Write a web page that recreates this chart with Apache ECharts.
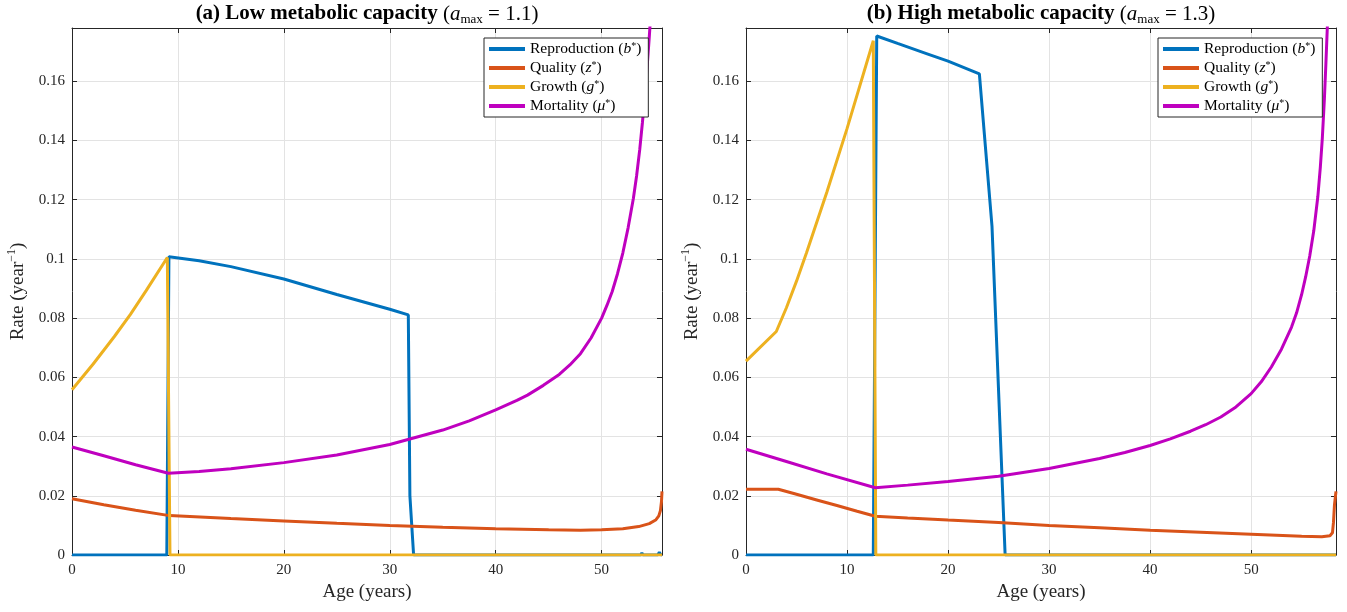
<!DOCTYPE html>
<html>
<head>
<meta charset="utf-8">
<script src="https://cdn.jsdelivr.net/npm/echarts@6/dist/echarts.min.js"></script>
<style>
html,body{margin:0;padding:0;background:#fff;}
#chart{width:1347px;height:612px;}
</style>
</head>
<body>
<div id="chart"></div>
<script>
// ---------- data (age in years, rate in 1/year) ----------
const ageMaxA = 55.7;
const ageMaxB = 58.4;
const rateMax = 0.178;

const reproA = [[0,0],[8.95,0],[9.15,0.1007],[12,0.0994],[15,0.0974],[20,0.0932],[25,0.0880],[30,0.0830],[31.75,0.0811],[31.9,0.020],[32.25,0],[53.7,0],[53.8,0.0007],[53.9,0],[55.3,0],[55.45,0.0009],[55.6,0],[55.7,0]];
const qualA = [[0,0.0190],[3,0.0170],[6,0.0151],[9.2,0.0133],[15,0.0123],[20,0.0115],[25,0.0107],[30,0.0100],[35,0.0094],[40,0.0089],[45,0.0085],[48,0.0084],[50,0.0085],[52,0.0089],[53.5,0.0096],[54.5,0.0106],[55.1,0.0118],[55.4,0.0132],[55.55,0.0150],[55.65,0.0180],[55.7,0.0215]];
const growA = [[0,0.0558],[2,0.0645],[4,0.0738],[5.5,0.0812],[7,0.0893],[9.0,0.1005],[9.25,0],[55.7,0]];
const mortA = [[0,0.0365],[3,0.0335],[6,0.0305],[9.1,0.0276],[12,0.0282],[15,0.0291],[20,0.0312],[25,0.0338],[30,0.0373],[35,0.0422],[37.5,0.0453],[40,0.0490],[42,0.0522],[43,0.0540],[44.5,0.0573],[46,0.0610],[47,0.0642],[48,0.0680],[49,0.0733],[50,0.0800],[50.5,0.0843],[51,0.0890],[51.5,0.0950],[52,0.1020],[52.5,0.1105],[53,0.1205],[53.3,0.1280],[53.6,0.1370],[53.85,0.1460],[54.1,0.1560],[54.3,0.1650],[54.5,0.1750],[54.7,0.1860],[54.9,0.1980]];

const reproB = [[0,0],[12.6,0],[12.94,0.1753],[15,0.1728],[18,0.1692],[20,0.1668],[23.1,0.1625],[24.35,0.111],[25.65,0],[58.4,0]];
const qualB = [[0,0.0222],[3.2,0.0222],[5,0.0205],[7,0.0186],[9,0.0167],[11,0.0148],[12.8,0.0131],[16,0.0125],[20,0.0118],[25,0.0110],[30,0.0100],[35,0.0092],[40,0.0084],[45,0.0077],[50,0.0070],[55,0.0063],[57,0.0062],[57.8,0.0065],[58.05,0.0075],[58.15,0.0110],[58.25,0.0170],[58.4,0.0215]];
const growB = [[0,0.0655],[3.0,0.0755],[4,0.0835],[5,0.0925],[6,0.1022],[8,0.1225],[10,0.1440],[12.6,0.1737],[12.85,0],[58.4,0]];
const mortB = [[0,0.0357],[4,0.0316],[8,0.0274],[12.8,0.0227],[16,0.0236],[20,0.0248],[25,0.0266],[30,0.0292],[35,0.0326],[37.5,0.0346],[40,0.0370],[42,0.0392],[44,0.0418],[45.5,0.0440],[47,0.0466],[48.5,0.0500],[50,0.0545],[51,0.0585],[52,0.0635],[53,0.0695],[54,0.0770],[54.5,0.0818],[55,0.0880],[55.4,0.0940],[55.8,0.1010],[56.2,0.1095],[56.6,0.1210],[56.85,0.1310],[57.05,0.1410],[57.25,0.1540],[57.4,0.1660],[57.55,0.1790],[57.7,0.1930]];

const seriesNames = ['Reproduction','Quality','Growth','Mortality'];
const legendLabels = {
  'Reproduction': '{n|Reproduction (}{i|b}{p|*}{n|)}',
  'Quality': '{n|Quality (}{i|z}{p|*}{n|)}',
  'Growth': '{n|Growth (}{i|g}{p|*}{n|)}',
  'Mortality': '{n|Mortality (}{i|μ}{p|*}{n|)}'
};
const colors = ['#0072BD','#D95319','#EDB120','#BF00BF'];

// ---------- styling ----------
const F = 'Liberation Serif';
const AX = '#262626';
const grids = [
  {left:72, top:28, width:590, height:527},
  {left:746, top:28, width:590, height:527}
];

function xFmt(v){ return (Math.abs(v % 10) < 1e-9) ? String(v) : ''; }
function yFmt(v){ return v > 0.17 ? '' : String(+v.toFixed(2)); }

function xAxisDef(gi, max, top){
  return {
    type:'value', gridIndex:gi, min:0, max:max, interval:10,
    position: top ? 'top' : 'bottom',
    axisLine:{show:true, onZero:false, lineStyle:{color:AX, width:1}},
    axisTick:{show:true, inside:true, length:5, lineStyle:{color:AX}},
    axisLabel:{show:!top, formatter:xFmt, color:AX, fontFamily:F, fontSize:15, margin:8},
    splitLine:{show:!top, lineStyle:{color:'#e3e3e3', width:1}},
    name: top ? '' : 'Age (years)',
    nameLocation:'middle', nameGap:27,
    nameTextStyle:{fontFamily:F, fontSize:19, color:AX}
  };
}
function yAxisDef(gi, right){
  return {
    type:'value', gridIndex:gi, min:0, max:rateMax, interval:0.02,
    position: right ? 'right' : 'left',
    axisLine:{show:true, onZero:false, lineStyle:{color:AX, width:1}},
    axisTick:{show:true, inside:true, length:5, lineStyle:{color:AX}},
    axisLabel:{show:!right, formatter:yFmt, color:AX, fontFamily:F, fontSize:15, margin:7},
    splitLine:{show:!right, lineStyle:{color:'#e3e3e3', width:1}},
    name: right ? '' : '{n|Rate (year}{p|−1}{n|)}',
    nameLocation:'middle', nameGap:42, nameRotate:90,
    nameTextStyle:{
      rich:{
        n:{fontFamily:F, fontSize:19, color:AX, lineHeight:24},
        p:{fontFamily:F, fontSize:12, color:AX, lineHeight:13, verticalAlign:'top'}
      }
    }
  };
}

function legendDef(left){
  return {
    data: seriesNames, left:left, top:38, orient:'vertical',
    padding:[3,7,3,5], itemGap:3, itemWidth:36, itemHeight:4, icon:'rect',
    selectedMode:false,
    backgroundColor:'#fff', borderColor:AX, borderWidth:1, borderRadius:0,
    formatter: function(name){ return legendLabels[name]; },
    textStyle:{
      rich:{
        n:{fontFamily:F, fontSize:15.5, color:'#000', lineHeight:16},
        i:{fontFamily:F, fontSize:15.5, fontStyle:'italic', color:'#000', lineHeight:16},
        p:{fontFamily:F, fontSize:10, color:'#000', lineHeight:9, verticalAlign:'top'}
      }
    }
  };
}

const titleRich = {
  b:{fontFamily:F, fontSize:21, fontWeight:'bold', color:'#000', lineHeight:24},
  t:{fontFamily:F, fontSize:21, fontWeight:'normal', color:'#000', lineHeight:24},
  i:{fontFamily:F, fontSize:21, fontWeight:'normal', fontStyle:'italic', color:'#000', lineHeight:24},
  s:{fontFamily:F, fontSize:13, fontWeight:'normal', color:'#000', lineHeight:14, verticalAlign:'bottom'}
};

function lineSeries(name, data, gi, ci){
  return {
    name:name, type:'line', xAxisIndex:gi, yAxisIndex:gi, data:data,
    showSymbol:false, symbol:'none', clip:true,
    lineStyle:{color:colors[ci], width:3}, itemStyle:{color:colors[ci]},
    emphasis:{disabled:true}
  };
}

const option = {
  animation:false,
  backgroundColor:'#fff',
  title:[
    {text:'{b|(a) Low metabolic capacity }{t|(}{i|a}{s|max}{t| = 1.1)}', left:367, top:2, textAlign:'center', padding:0, textStyle:{fontWeight:'normal', rich:titleRich}},
    {text:'{b|(b) High metabolic capacity }{t|(}{i|a}{s|max}{t| = 1.3)}', left:1041, top:2, textAlign:'center', padding:0, textStyle:{fontWeight:'normal', rich:titleRich}}
  ],
  grid:grids,
  xAxis:[xAxisDef(0, ageMaxA, false), xAxisDef(1, ageMaxB, false), xAxisDef(0, ageMaxA, true), xAxisDef(1, ageMaxB, true)],
  yAxis:[yAxisDef(0, false), yAxisDef(1, false), yAxisDef(0, true), yAxisDef(1, true)],
  legend:[legendDef(484), legendDef(1158)],
  series:[
    lineSeries('Reproduction', reproA, 0, 0),
    lineSeries('Quality', qualA, 0, 1),
    lineSeries('Growth', growA, 0, 2),
    lineSeries('Mortality', mortA, 0, 3),
    lineSeries('Reproduction', reproB, 1, 0),
    lineSeries('Quality', qualB, 1, 1),
    lineSeries('Growth', growB, 1, 2),
    lineSeries('Mortality', mortB, 1, 3)
  ]
};

const chart = echarts.init(document.getElementById('chart'), null, {renderer:'canvas'});
chart.setOption(option);
</script>
</body>
</html>
